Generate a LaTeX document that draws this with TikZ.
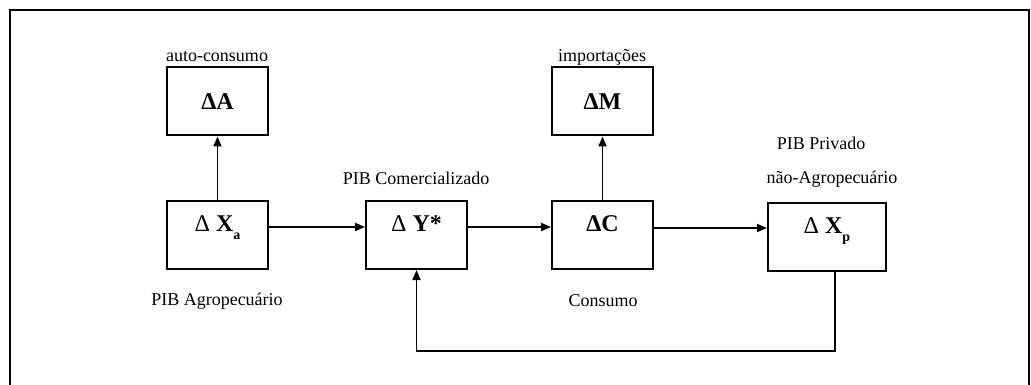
\documentclass[tikz,border=0pt]{standalone}
\usepackage{fontspec}
\setmainfont{Liberation Serif}
\usepackage{tikz}
\usetikzlibrary{arrows.meta}
\newcommand{\lowsub}[1]{\raisebox{-0.35em}{\fontsize{14}{14}\selectfont #1}}
\newcommand{\thindelta}{{\mdseries Δ}}

\begin{document}
\begin{tikzpicture}[x=1pt,y=-1pt,
  blk/.style={draw, line width=2pt, minimum width=101pt, minimum height=68pt, inner sep=0pt, font=\fontsize{24}{26}\selectfont\bfseries},
  lowblk/.style={blk, text height=16pt, text depth=24pt},
  lbl/.style={font=\fontsize{18}{20}\selectfont, inner sep=0pt},
  arr/.style={line width=1.8pt, -{Triangle[length=10pt,width=8pt]}}]
\useasboundingbox (0,0) rectangle (1031,385);
\draw[line width=2pt] (10,385) -- (10,10) -- (1029,10) -- (1029,385);

% boxes
\node[blk] (a) at (217.5,101.5) {ΔA};
\node[blk] (m) at (602.5,101.5) {ΔM};
\node[lowblk] (xa) at (217.5,235) {\thindelta{} X\lowsub{a}};
\node[lowblk] (ys) at (416.5,235) {\thindelta{} Y*};
\node[lowblk] (c) at (602.5,235) {ΔC};
\node[lowblk, minimum width=118pt] (xp) at (827,237) {\thindelta{} X\lowsub{p}};

% labels
\node[lbl] (la) at (217,57) {auto-consumo};
\node[lbl] (lm) at (602,57) {importações};
\node[lbl] (lys) at (416,178) {PIB Comercializado};
\node[lbl] (lxp1) at (821,143) {PIB Privado};
\node[lbl] (lxp2) at (832,179) {não-Agropecuário};
\node[lbl] (lxa) at (217,301) {PIB Agropecuário};
\node[lbl] (lc) at (603,301) {Consumo};

% connectors
\coordinate (fb) at (416.5,351);
\draw[arr] (xa.north) -- (a.south);
\draw[arr] (c.north) -- (m.south);
\draw[arr] ([yshift=8pt]xa.east) -- ([yshift=8pt]ys.west);
\draw[arr] ([yshift=8pt]ys.east) -- ([yshift=8pt]c.west);
\draw[arr] ([yshift=7pt]c.east) -- ([yshift=9pt]xp.west);
\draw[arr] ([xshift=8pt]xp.south) |- (fb) -- (ys.south);
\end{tikzpicture}
\end{document}
